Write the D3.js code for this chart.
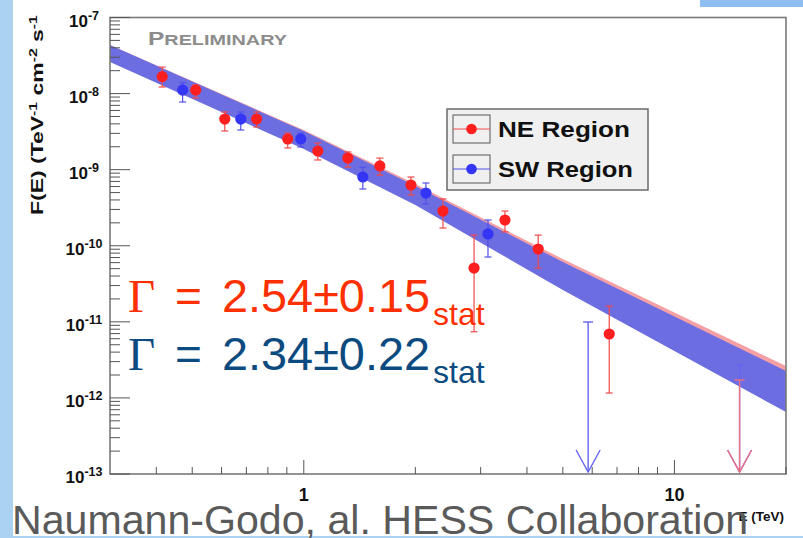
<!DOCTYPE html>
<html>
<head>
<meta charset="utf-8">
<script src="https://cdn.jsdelivr.net/npm/d3@7"></script>
<style>
  html, body { margin: 0; padding: 0; background: #fff; }
  svg { display: block; }
</style>
</head>
<body>
<svg id="chart" width="803" height="538"></svg>
<script>
// NE region spectral points (E in TeV, F in TeV^-1 cm^-2 s^-1)
const neE  = [0.415, 0.511, 0.612, 0.746, 0.905, 1.091, 1.315, 1.604, 1.946, 2.374, 2.88, 3.49, 4.29, 6.67];
const neF  = [1.67e-8, 1.11e-8, 4.63e-9, 4.63e-9, 2.53e-9, 1.76e-9, 1.42e-9, 1.12e-9, 6.28e-10, 2.86e-10, 5.09e-11, 2.18e-10, 9.06e-11, 6.92e-12];
const neHi = [2.23e-8, 1.30e-8, 5.73e-9, 5.73e-9, 3.03e-9, 2.24e-9, 1.71e-9, 1.42e-9, 8.01e-10, 4.12e-10, 1.38e-10, 2.86e-10, 1.38e-10, 1.61e-11];
const neLo = [1.22e-8, 8.75e-9, 3.22e-9, 3.64e-9, 1.93e-9, 1.34e-9, 1.08e-9, 8.51e-10, 4.65e-10, 1.71e-10, 7.41e-12, 1.52e-10, 5.09e-11, 1.16e-12];
const neUlE = [14.99];
const neUlF = [1.72e-12];

// SW region spectral points
const swE  = [0.471, 0.676, 0.981, 1.443, 2.136, 3.14];
const swF  = [1.11e-8, 4.63e-9, 2.53e-9, 8.01e-10, 4.93e-10, 1.43e-10];
const swHi = [1.38e-8, 5.73e-9, 3.03e-9, 1.08e-9, 6.68e-10, 2.18e-10];
const swLo = [7.75e-9, 3.32e-9, 1.99e-9, 5.57e-10, 3.54e-10, 7.11e-11];
const swUlE = [5.85, 14.99];
const swUlF = [9.95e-12, 2.70e-12];

// Fit confidence bands (edges sampled along energy)
const bandE    = [0.3, 1, 2, 5, 20];
const swBandHi = [4.35e-8, 3.22e-9, 6.10e-10, 6.11e-11, 2.26e-12];
const swBandLo = [2.60e-8, 1.87e-9, 3.43e-10, 2.62e-11, 6.53e-13];
const neBandHi = [4.35e-8, 3.32e-9, 6.46e-10, 6.69e-11, 2.63e-12];
const neBandLo = [2.76e-8, 2.05e-9, 3.99e-10, 3.24e-11, 8.83e-13];

// Axes
const xDomain = [0.3, 20];
const yDomain = [1e-13, 1e-7];
const xMajor = [1, 10];
const xMinor = [0.4, 0.5, 0.6, 0.7, 0.8, 0.9, 2, 3, 4, 5, 6, 7, 8, 9, 20];
const yExponents = [-7, -8, -9, -10, -11, -12, -13];

const legendLabels = ["NE Region", "SW Region"];
const fitTexts = [
  { value: "2.54\u00b10.15", color: "#ff3000" },
  { value: "2.34\u00b10.22", color: "#0c4b80" }
];

const svg = d3.select("#chart");
const frame = { left: 110, right: 786, top: 17.5, bottom: 474 };

const x = d3.scaleLog().domain(xDomain).range([frame.left, frame.right]);
const y = d3.scaleLog().domain(yDomain).range([frame.bottom, frame.top]);

// Page decoration
svg.append("rect").attr("x", 0).attr("y", 0).attr("width", 803).attr("height", 538).attr("fill", "#ffffff");
svg.append("rect").attr("x", 0).attr("y", 0).attr("width", 13).attr("height", 538).attr("fill", "#acd2f2");
svg.append("rect").attr("x", 700).attr("y", 0).attr("width", 103).attr("height", 7).attr("fill", "#8ebff0");
svg.append("rect").attr("x", 0).attr("y", 536).attr("width", 803).attr("height", 2).attr("fill", "#acd2f2");

const plot = svg.append("g");

// Bands
const bandArea = (hi, lo) => d3.area()
  .x((d, i) => x(bandE[i]))
  .y0((d, i) => y(lo[i]))
  .y1((d, i) => y(hi[i]));

plot.append("path")
  .datum(bandE)
  .attr("d", bandArea(neBandHi, neBandLo))
  .attr("fill", "#f5a0a4");

plot.append("path")
  .datum(bandE)
  .attr("d", bandArea(swBandHi, swBandLo))
  .attr("fill", "#6d6de2");

// Frame
plot.append("rect")
  .attr("x", frame.left).attr("y", frame.top)
  .attr("width", frame.right - frame.left).attr("height", frame.bottom - frame.top)
  .attr("fill", "none").attr("stroke", "#7a7a7a").attr("stroke-width", 1.6);

// Y ticks (inside the frame)
const yTicks = plot.append("g").attr("stroke", "#555").attr("stroke-width", 1);
yExponents.forEach(e => {
  const v = Math.pow(10, e);
  yTicks.append("line").attr("x1", frame.left).attr("x2", frame.left + 20)
    .attr("y1", y(v)).attr("y2", y(v));
  if (e > -13) {
    for (let m = 2; m <= 9; m++) {
      const vm = m * v / 10;
      yTicks.append("line").attr("x1", frame.left).attr("x2", frame.left + 10)
        .attr("y1", y(vm)).attr("y2", y(vm));
    }
  }
});

// X ticks
const xTicks = plot.append("g").attr("stroke", "#555").attr("stroke-width", 1);
xMajor.forEach(v => {
  xTicks.append("line").attr("x1", x(v)).attr("x2", x(v))
    .attr("y1", frame.bottom).attr("y2", frame.bottom - 14);
});
xMinor.forEach(v => {
  xTicks.append("line").attr("x1", x(v)).attr("x2", x(v))
    .attr("y1", frame.bottom).attr("y2", frame.bottom - 7);
});

// Y tick labels
const yLab = svg.append("g").attr("font-family", "Liberation Sans, Arial, sans-serif")
  .attr("font-weight", "bold").attr("fill", "#111");
yExponents.forEach(e => {
  const t = yLab.append("text").attr("x", 84).attr("y", y(Math.pow(10, e)) + 9)
    .attr("text-anchor", "middle").attr("font-size", 17);
  t.append("tspan").text("10");
  t.append("tspan").attr("font-size", 12.5).attr("dy", -7).text("-" + Math.abs(e));
});

// X tick labels
xMajor.forEach(v => {
  svg.append("text").attr("x", x(v)).attr("y", 501)
    .attr("text-anchor", "middle")
    .attr("font-family", "Liberation Sans, Arial, sans-serif")
    .attr("font-weight", "bold").attr("font-size", 18).attr("fill", "#111")
    .text(d3.format("d")(v));
});

// Axis titles
svg.append("text").attr("x", 784).attr("y", 521).attr("text-anchor", "end")
  .attr("font-family", "Liberation Sans, Arial, sans-serif")
  .attr("font-weight", "bold").attr("font-size", 13.5).attr("fill", "#111")
  .text("E (TeV)");

// Vertical title, stretched along its run to span the upper part of the axis
const yTitle = svg.append("text")
  .attr("text-anchor", "start")
  .attr("font-family", "Liberation Sans, Arial, sans-serif")
  .attr("font-weight", "bold").attr("font-size", 16).attr("fill", "#111");
[["F(E) (TeV", null], ["-1", "sup"], [" cm", null], ["-2", "sup"], [" s", null], ["-1", "sup"]]
  .forEach(([s, k]) => {
    const ts = yTitle.append("tspan").text(s);
    if (k === "sup") ts.attr("font-size", 11).attr("baseline-shift", "super");
  });
const titleRun = yTitle.node().getComputedTextLength();
const titleSpan = 200;
yTitle.attr("transform", `translate(43,${15 + titleSpan}) rotate(-90) scale(${titleSpan / titleRun},1)`);

// "Preliminary" tag in small caps
const prelim = svg.append("text").attr("x", 148).attr("y", 45)
  .attr("font-family", "Liberation Sans, Arial, sans-serif")
  .attr("font-weight", "bold").attr("fill", "#8c8c8c")
  .attr("textLength", 139).attr("lengthAdjust", "spacingAndGlyphs");
prelim.append("tspan").attr("font-size", 18.5).text("P");
prelim.append("tspan").attr("font-size", 15).text("RELIMINARY");

// Error bars and markers
function drawSeries(E, F, lo, hi, marker, bar) {
  const g = plot.append("g");
  E.forEach((e, i) => {
    const cx = x(e);
    g.append("line").attr("x1", cx).attr("x2", cx).attr("y1", y(lo[i])).attr("y2", y(hi[i]))
      .attr("stroke", bar).attr("stroke-width", 1.2);
    [lo[i], hi[i]].forEach(v => {
      g.append("line").attr("x1", cx - 3.5).attr("x2", cx + 3.5).attr("y1", y(v)).attr("y2", y(v))
        .attr("stroke", bar).attr("stroke-width", 1.2);
    });
    g.append("circle").attr("cx", cx).attr("cy", y(F[i])).attr("r", 5.6).attr("fill", marker);
  });
}

function drawLimits(E, F, color) {
  const g = plot.append("g").attr("stroke", color).attr("stroke-width", 1.4).attr("fill", "none");
  E.forEach((e, i) => {
    const cx = x(e), top = y(F[i]), bot = y(yDomain[0]) - 2;
    g.append("line").attr("x1", cx).attr("x2", cx).attr("y1", top).attr("y2", bot);
    g.append("line").attr("x1", cx - 5).attr("x2", cx + 5).attr("y1", top).attr("y2", top);
    g.append("path").attr("d", `M${cx - 12},${bot - 22}L${cx},${bot}L${cx + 12},${bot - 22}`);
  });
}

drawLimits(swUlE, swUlF, "#6464f0");
drawLimits(neUlE, neUlF, "#f07080");
drawSeries(neE, neF, neLo, neHi, "#ff1f1f", "#f04a4a");
drawSeries(swE, swF, swLo, swHi, "#3535f5", "#5050e8");

// Legend
const leg = svg.append("g");
leg.append("rect").attr("x", 447).attr("y", 109).attr("width", 201).attr("height", 81)
  .attr("fill", "#f0f0f0").attr("stroke", "#6a6a6a").attr("stroke-width", 1.5);
const legColors = [["#ff1f1f", "#f04a4a"], ["#3535f5", "#5050e8"]];
legendLabels.forEach((lab, i) => {
  const yy = 115 + i * 40;
  leg.append("rect").attr("x", 453).attr("y", yy).attr("width", 37).attr("height", 28)
    .attr("fill", "none").attr("stroke", "#555").attr("stroke-width", 1);
  leg.append("line").attr("x1", 453).attr("x2", 490).attr("y1", yy + 14).attr("y2", yy + 14)
    .attr("stroke", legColors[i][1]).attr("stroke-width", 1.2);
  leg.append("circle").attr("cx", 471.5).attr("cy", yy + 14).attr("r", 5.3).attr("fill", legColors[i][0]);
  leg.append("text").attr("x", 498).attr("y", yy + 22)
    .attr("font-family", "Liberation Sans, Arial, sans-serif").attr("font-weight", "bold")
    .attr("font-size", 22).attr("fill", "#111")
    .attr("textLength", i === 0 ? 132 : 135).attr("lengthAdjust", "spacingAndGlyphs")
    .text(lab);
});

// Spectral index annotations
fitTexts.forEach((f, i) => {
  const base = 312 + i * 58;
  const g = svg.append("g").attr("fill", f.color);
  g.append("text").attr("x", 128).attr("y", base)
    .attr("font-family", "Liberation Serif, Times New Roman, serif").attr("font-size", 47)
    .text("\u0393");
  g.append("text").attr("x", 175).attr("y", base)
    .attr("font-family", "Liberation Sans, Arial, sans-serif").attr("font-size", 46)
    .text("=");
  g.append("text").attr("x", 222).attr("y", base)
    .attr("font-family", "Liberation Sans, Arial, sans-serif").attr("font-size", 46)
    .attr("textLength", 208).attr("lengthAdjust", "spacingAndGlyphs")
    .text(f.value);
  g.append("text").attr("x", 433).attr("y", base + 13)
    .attr("font-family", "Liberation Sans, Arial, sans-serif").attr("font-size", 32)
    .text("stat");
});

// Credit line
svg.append("text").attr("x", 12).attr("y", 533.5)
  .attr("font-family", "Liberation Sans, Arial, sans-serif").attr("font-size", 40)
  .attr("fill", "#5a5a5a")
  .attr("textLength", 736).attr("lengthAdjust", "spacingAndGlyphs")
  .text("Naumann-Godo, al. HESS Collaboration");
</script>
</body>
</html>
